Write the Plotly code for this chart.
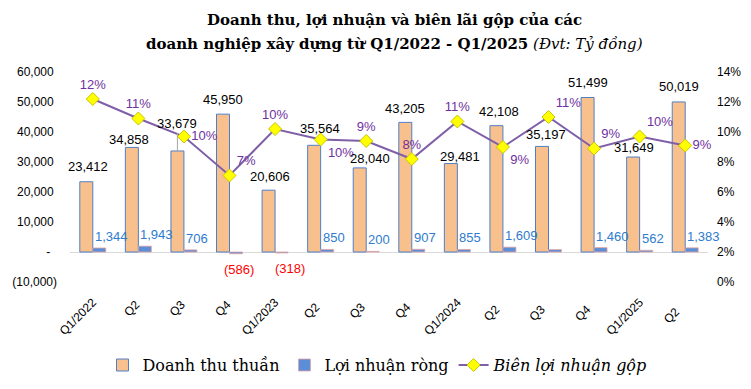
import plotly.graph_objects as go

categories = ["Q1/2022", "Q2 ", "Q3 ", "Q4 ", "Q1/2023", "Q2  ", "Q3  ", "Q4  ",
              "Q1/2024", "Q2   ", "Q3   ", "Q4   ", "Q1/2025", "Q2    "]
revenue = [23412, 34858, 33679, 45950, 20606, 35564, 28040, 43205,
           29481, 42108, 35197, 51499, 31649, 50019]
net_profit = [1344, 1943, 706, -586, -318, 850, 200, 907,
              855, 1609, 800, 1460, 562, 1383]
profit_labels = ["1,344", "1,943", "706", "(586)", "(318)", "850", "200", "907",
                 "855", "1,609", "", "1,460", "562", "1,383"]
gross_margin = [0.122, 0.109, 0.097, 0.071, 0.102, 0.095, 0.094, 0.082,
                0.107, 0.090, 0.110, 0.089, 0.097, 0.091]
left_tickvals = [-10000, 0, 10000, 20000, 30000, 40000, 50000, 60000]
left_ticktext = ["(10,000)", "-\u00a0\u00a0", "10,000\u00a0", "20,000\u00a0", "30,000\u00a0",
                 "40,000\u00a0", "50,000\u00a0", "60,000\u00a0"]

# label placement (pixels), kept apart from the data
rev_label_dx = [2, -3, 0, 0, 1, 6, 10, 0, 9, 3, 4, 0, 1, 0]
rev_label_dy = [15, 8, 27, 15, 14, 17, 9, 14, 7, 14, 12, 15, 10, 15]
neg_label_dx = {3: 9, 4: 15}
margin_textpos = ["top center", "top center", "middle right", "top right", "top center",
                  "bottom right", "top center", "top center", "top center", "bottom right",
                  "top right", "top right", "top right", "middle right"]

SANS = "Liberation Sans, Arial, sans-serif"
SERIF = "DejaVu Serif, Liberation Serif, serif"

fig = go.Figure()
fig.add_trace(go.Bar(
    x=categories, y=revenue, name="Doanh thu thuần",
    marker=dict(color="#F8C08D", line=dict(color="#4F7FC8", width=1)),
))
fig.add_trace(go.Bar(
    x=categories, y=net_profit, name="Lợi nhuận ròng",
    marker=dict(color="#5B8ED6", line=dict(color="#E3A4A4", width=0.8)),
))
fig.add_trace(go.Scatter(
    x=categories, y=gross_margin, name="<i>Biên lợi nhuận gộp</i>", yaxis="y2",
    mode="lines+markers+text",
    line=dict(color="#7E5FA8", width=2),
    marker=dict(symbol="diamond", size=10, color="#FFFF00", line=dict(color="#C9C400", width=1)),
    text=[f"{v:.0%}" for v in gross_margin], textposition=margin_textpos,
    textfont=dict(family=SANS, size=13, color="#7030A0"),
    cliponaxis=False,
))

annotations = []
for i, (c, v) in enumerate(zip(categories, revenue)):
    if rev_label_dy[i] > 20:
        annotations.append(dict(
            x=c, y=v, xref="x", yref="y", text=f"{v:,}", showarrow=True,
            arrowhead=0, arrowwidth=1, arrowcolor="#A6A6A6", standoff=0,
            ax=rev_label_dx[i], ay=-rev_label_dy[i], xshift=-6.5,
            font=dict(family=SANS, size=13, color="#000000"),
        ))
    else:
        annotations.append(dict(
            x=c, y=v, xref="x", yref="y", text=f"{v:,}", showarrow=False,
            xshift=-6.5 + rev_label_dx[i], yanchor="middle", yshift=rev_label_dy[i],
            font=dict(family=SANS, size=13, color="#000000"),
        ))
for i, (c, v, t) in enumerate(zip(categories, net_profit, profit_labels)):
    if not t:
        continue
    if v >= 0:
        annotations.append(dict(
            x=c, y=v, xref="x", yref="y", text=t, showarrow=False,
            xanchor="left", xshift=0, yanchor="bottom", yshift=2,
            font=dict(family=SANS, size=13, color="#2E7BCF"),
        ))
    else:
        annotations.append(dict(
            x=c, y=v, xref="x", yref="y", text=t, showarrow=False,
            xanchor="center", xshift=neg_label_dx.get(i, 9), yanchor="top", yshift=-6,
            font=dict(family=SANS, size=13, color="#FF0000"),
        ))
annotations.append(dict(
    x=0.508, y=1.248, xref="paper", yref="paper", showarrow=False,
    text="<b>Doanh thu, lợi nhuận và biên lãi gộp của các</b>",
    font=dict(family=SERIF, size=15, color="#000000"), xanchor="center", yanchor="middle",
))
annotations.append(dict(
    x=0.508, y=1.134, xref="paper", yref="paper", showarrow=False,
    text="<b>doanh nghiệp xây dựng từ Q1/2022 - Q1/2025</b> <i>(Đvt: Tỷ đồng)</i>",
    font=dict(family=SERIF, size=15, color="#000000"), xanchor="center", yanchor="middle",
))

fig.update_layout(
    width=751, height=389,
    margin=dict(l=62, r=51, t=64, b=115, autoexpand=False),
    paper_bgcolor="white", plot_bgcolor="white",
    barmode="group", bargap=0.43, bargroupgap=0,
    showlegend=True,
    legend=dict(orientation="h", xref="container", yref="container",
                x=0.492, xanchor="center", y=0.082, yanchor="middle",
                font=dict(family=SERIF, size=16, color="#000000"),
                itemwidth=30, tracegroupgap=0),
    xaxis=dict(range=[-0.5, 13.5], tickangle=-45,
               tickfont=dict(family=SANS, size=12, color="#000000"),
               showgrid=False, showline=False, ticks="", automargin=False,
               ticklabelstandoff=10),
    yaxis=dict(range=[-10000, 60000], tickvals=left_tickvals, ticktext=left_ticktext,
               tickfont=dict(family=SANS, size=12, color="#000000"),
               showgrid=False, zeroline=True, zerolinecolor="#D9D9D9", zerolinewidth=1,
               ticklabelstandoff=12, automargin=False),
    yaxis2=dict(range=[0, 0.14], dtick=0.02, tickformat=".0%", overlaying="y", side="right",
                tickfont=dict(family=SANS, size=12, color="#000000"),
                showgrid=False, zeroline=False, ticklabelstandoff=8, automargin=False),
    annotations=annotations,
)

fig.write_html("out.html")
